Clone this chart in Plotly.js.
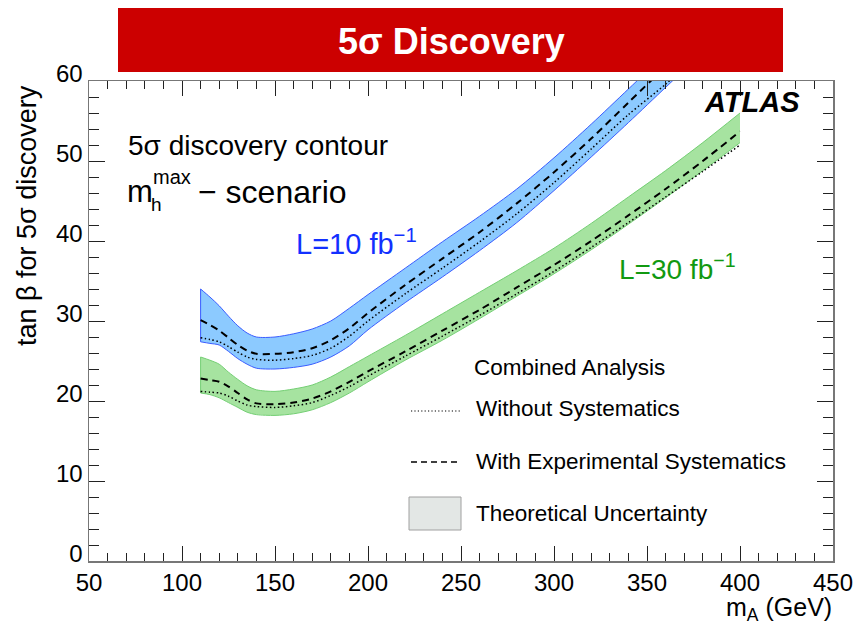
<!DOCTYPE html>
<html>
<head>
<meta charset="utf-8">
<script src="https://cdn.plot.ly/plotly-3.0.1.min.js"></script>
<style>html,body{margin:0;padding:0;background:#fff;}#chart{width:859px;height:625px;}</style>
</head>
<body>
<div id="chart"></div>
<script>
// ---------- data ----------
const mA_L10 = [110,115,120,125,130,135,140,150,160,170,180,190,200,220,240,260,280,300,320,340,360,370];
const L10_upper   = [34.0,33.0,31.9,30.6,29.4,28.5,28.0,28.0,28.4,29.0,30.0,31.6,33.3,36.6,39.9,43.1,46.5,50.4,54.6,59.0,63.4,65.6];
const L10_dashed  = [30.1,29.5,28.8,27.9,27.0,26.3,25.9,25.9,26.1,26.6,27.6,29.1,31.0,34.5,37.8,41.1,44.7,48.6,52.8,57.3,61.8,64.0];
const L10_dotted  = [27.9,27.7,27.4,26.8,26.1,25.5,25.2,25.1,25.3,25.7,26.6,28.1,30.0,33.4,36.6,39.9,43.4,47.3,51.5,55.8,59.6,61.8];
const L10_lower   = [27.4,27.2,27.0,26.2,25.3,24.6,24.1,24.0,24.2,24.6,25.5,26.9,28.9,32.3,35.5,38.8,42.3,46.3,50.5,54.8,59.2,61.4];

const mA_L30 = [110,115,120,125,130,135,140,150,160,170,180,190,200,220,240,260,280,300,320,340,360,380,400];
const L30_upper   = [25.5,25.1,24.6,23.6,22.7,21.9,21.4,21.2,21.5,22.0,23.0,24.3,25.6,28.2,30.9,33.6,36.3,39.1,42.2,45.5,48.8,52.3,56.0];
const L30_dashed  = [22.8,22.6,22.4,21.8,21.0,20.2,19.7,19.6,19.8,20.3,21.2,22.4,23.7,26.2,28.8,31.4,34.2,37.0,40.0,43.2,46.5,50.0,53.7];
const L30_dotted  = [21.2,21.1,21.0,20.6,20.0,19.5,19.3,19.2,19.4,19.8,20.7,21.8,23.1,25.6,28.1,30.7,33.4,36.2,39.2,42.3,45.5,48.7,52.0];
const L30_lower   = [21.0,20.8,20.4,19.8,19.2,18.6,18.3,18.2,18.4,18.9,19.8,21.0,22.4,25.1,27.6,30.3,33.1,35.9,38.9,42.1,45.4,48.8,52.3];

const xTickVals = [50,100,150,200,250,300,350,400,450];
const yTickVals = [0,10,20,30,40,50,60];

// ---------- layout helpers ----------
const W = 859, H = 625;
const M = {l: 89, r: 26, t: 81, b: 64};
const PW = W - M.l - M.r, PH = H - M.t - M.b;
const px = x => (x - M.l) / PW;
const py = y => (H - M.b - y) / PH;
const FONT = 'Liberation Sans, Arial, Helvetica, sans-serif';

function band(m, up, lo, fill, edge) {
  return [
    {x: m, y: lo, type: 'scatter', mode: 'lines',
     line: {color: edge, width: 1, shape: 'spline', smoothing: 0.8}, hoverinfo: 'skip', showlegend: false},
    {x: m, y: up, type: 'scatter', mode: 'lines', fill: 'tonexty', fillcolor: fill,
     line: {color: edge, width: 1, shape: 'spline', smoothing: 0.8}, hoverinfo: 'skip', showlegend: false},
    {x: [m[0], m[0]], y: [lo[0], up[0]], type: 'scatter', mode: 'lines',
     line: {color: edge, width: 1}, hoverinfo: 'skip', showlegend: false}
  ];
}
function line(m, v, dash, width) {
  return {x: m, y: v, type: 'scatter', mode: 'lines',
    line: {color: '#000', width: width, dash: dash, shape: 'spline', smoothing: 0.8}, hoverinfo: 'skip', showlegend: false};
}

const traces = [].concat(
  band(mA_L10, L10_upper, L10_lower, '#8ccaff', '#3a5cff'),
  band(mA_L30, L30_upper, L30_lower, '#a6e3a0', '#74cf74'),
  [
    line(mA_L10, L10_dotted, '1.5px,2.5px', 1.5),
    line(mA_L10, L10_dashed, '7px,5px', 2),
    line(mA_L30, L30_dotted, '1.5px,2.5px', 1.5),
    line(mA_L30, L30_dashed, '7px,5px', 2)
  ]
);

function txt(text, x, y, size, opts) {
  return Object.assign({
    text: text, xref: 'paper', yref: 'paper', x: px(x), y: py(y),
    xanchor: 'left', yanchor: 'middle', showarrow: false,
    font: {family: FONT, size: size, color: '#000'}
  }, opts || {});
}

const annotations = [
  txt('<b>5σ Discovery</b>', 451, 41, 36, {xanchor: 'center', font: {family: FONT, size: 36, color: '#fff'}}),
  txt('5σ discovery contour', 126, 145, 28),
  txt('m', 125, 192, 31),
  txt('max', 151, 177, 20),
  txt('h', 149, 204, 19),
  txt('− scenario', 196, 192, 32),
  txt('L=10 fb<sup>−1</sup>', 294, 242, 29, {font: {family: FONT, size: 29, color: '#1230ff'}}),
  txt('L=30 fb<sup>−1</sup>', 617, 267, 28, {font: {family: FONT, size: 28, color: '#119911'}}),
  txt('<b><i>ATLAS</i></b>', 702, 102, 29),
  txt('Combined Analysis', 472, 367, 22.5),
  txt('Without Systematics', 474, 408, 22.5),
  txt('With Experimental Systematics', 474, 461, 22.5),
  txt('Theoretical Uncertainty', 474, 513, 22.5),
  txt('tan β for 5σ discovery', 27, 216, 27, {xanchor: 'center', textangle: -90}),
  txt('m<sub>A</sub> (GeV)', 834, 609, 25, {xanchor: 'right'})
];

const shapes = [
  {type: 'rect', xref: 'paper', yref: 'paper', x0: px(118), x1: px(783), y0: py(72), y1: py(8),
   fillcolor: '#cc0000', line: {width: 0}, layer: 'below'},
  {type: 'line', xref: 'paper', yref: 'paper', x0: px(411), x1: px(460), y0: py(411), y1: py(411),
   line: {color: '#000', width: 1.2, dash: '1.2px,2.2px'}},
  {type: 'line', xref: 'paper', yref: 'paper', x0: px(411), x1: px(460), y0: py(462), y1: py(462),
   line: {color: '#000', width: 1.3, dash: '6px,4px'}},
  {type: 'rect', xref: 'paper', yref: 'paper', x0: px(409), x1: px(461), y0: py(530), y1: py(497),
   fillcolor: '#e3e7e5', line: {color: '#a0a0a0', width: 1}}
];

const axisCommon = {
  showgrid: false, zeroline: false, showline: true, linecolor: '#777', linewidth: 1.5,
  mirror: 'allticks', ticks: 'inside', tickcolor: '#222', tickwidth: 1,
  tickfont: {family: FONT, size: 24, color: '#000'}, fixedrange: true
};

const layout = {
  width: W, height: H, margin: M, paper_bgcolor: '#fff', plot_bgcolor: '#fff',
  showlegend: false,
  xaxis: Object.assign({}, axisCommon, {
    range: [50, 450], tickmode: 'array', tickvals: xTickVals, ticklen: 15,
    minor: {dtick: 10, ticklen: 8, ticks: 'inside', tickcolor: '#222', tickwidth: 1}
  }),
  yaxis: Object.assign({}, axisCommon, {
    range: [0, 60], tickmode: 'array', tickvals: yTickVals, ticklen: 16, ticklabelshift: -7,
    minor: {dtick: 2, ticklen: 10, ticks: 'inside', tickcolor: '#222', tickwidth: 1}
  }),
  annotations: annotations, shapes: shapes
};

Plotly.newPlot('chart', traces, layout, {staticPlot: true, displayModeBar: false});
</script>
</body>
</html>
